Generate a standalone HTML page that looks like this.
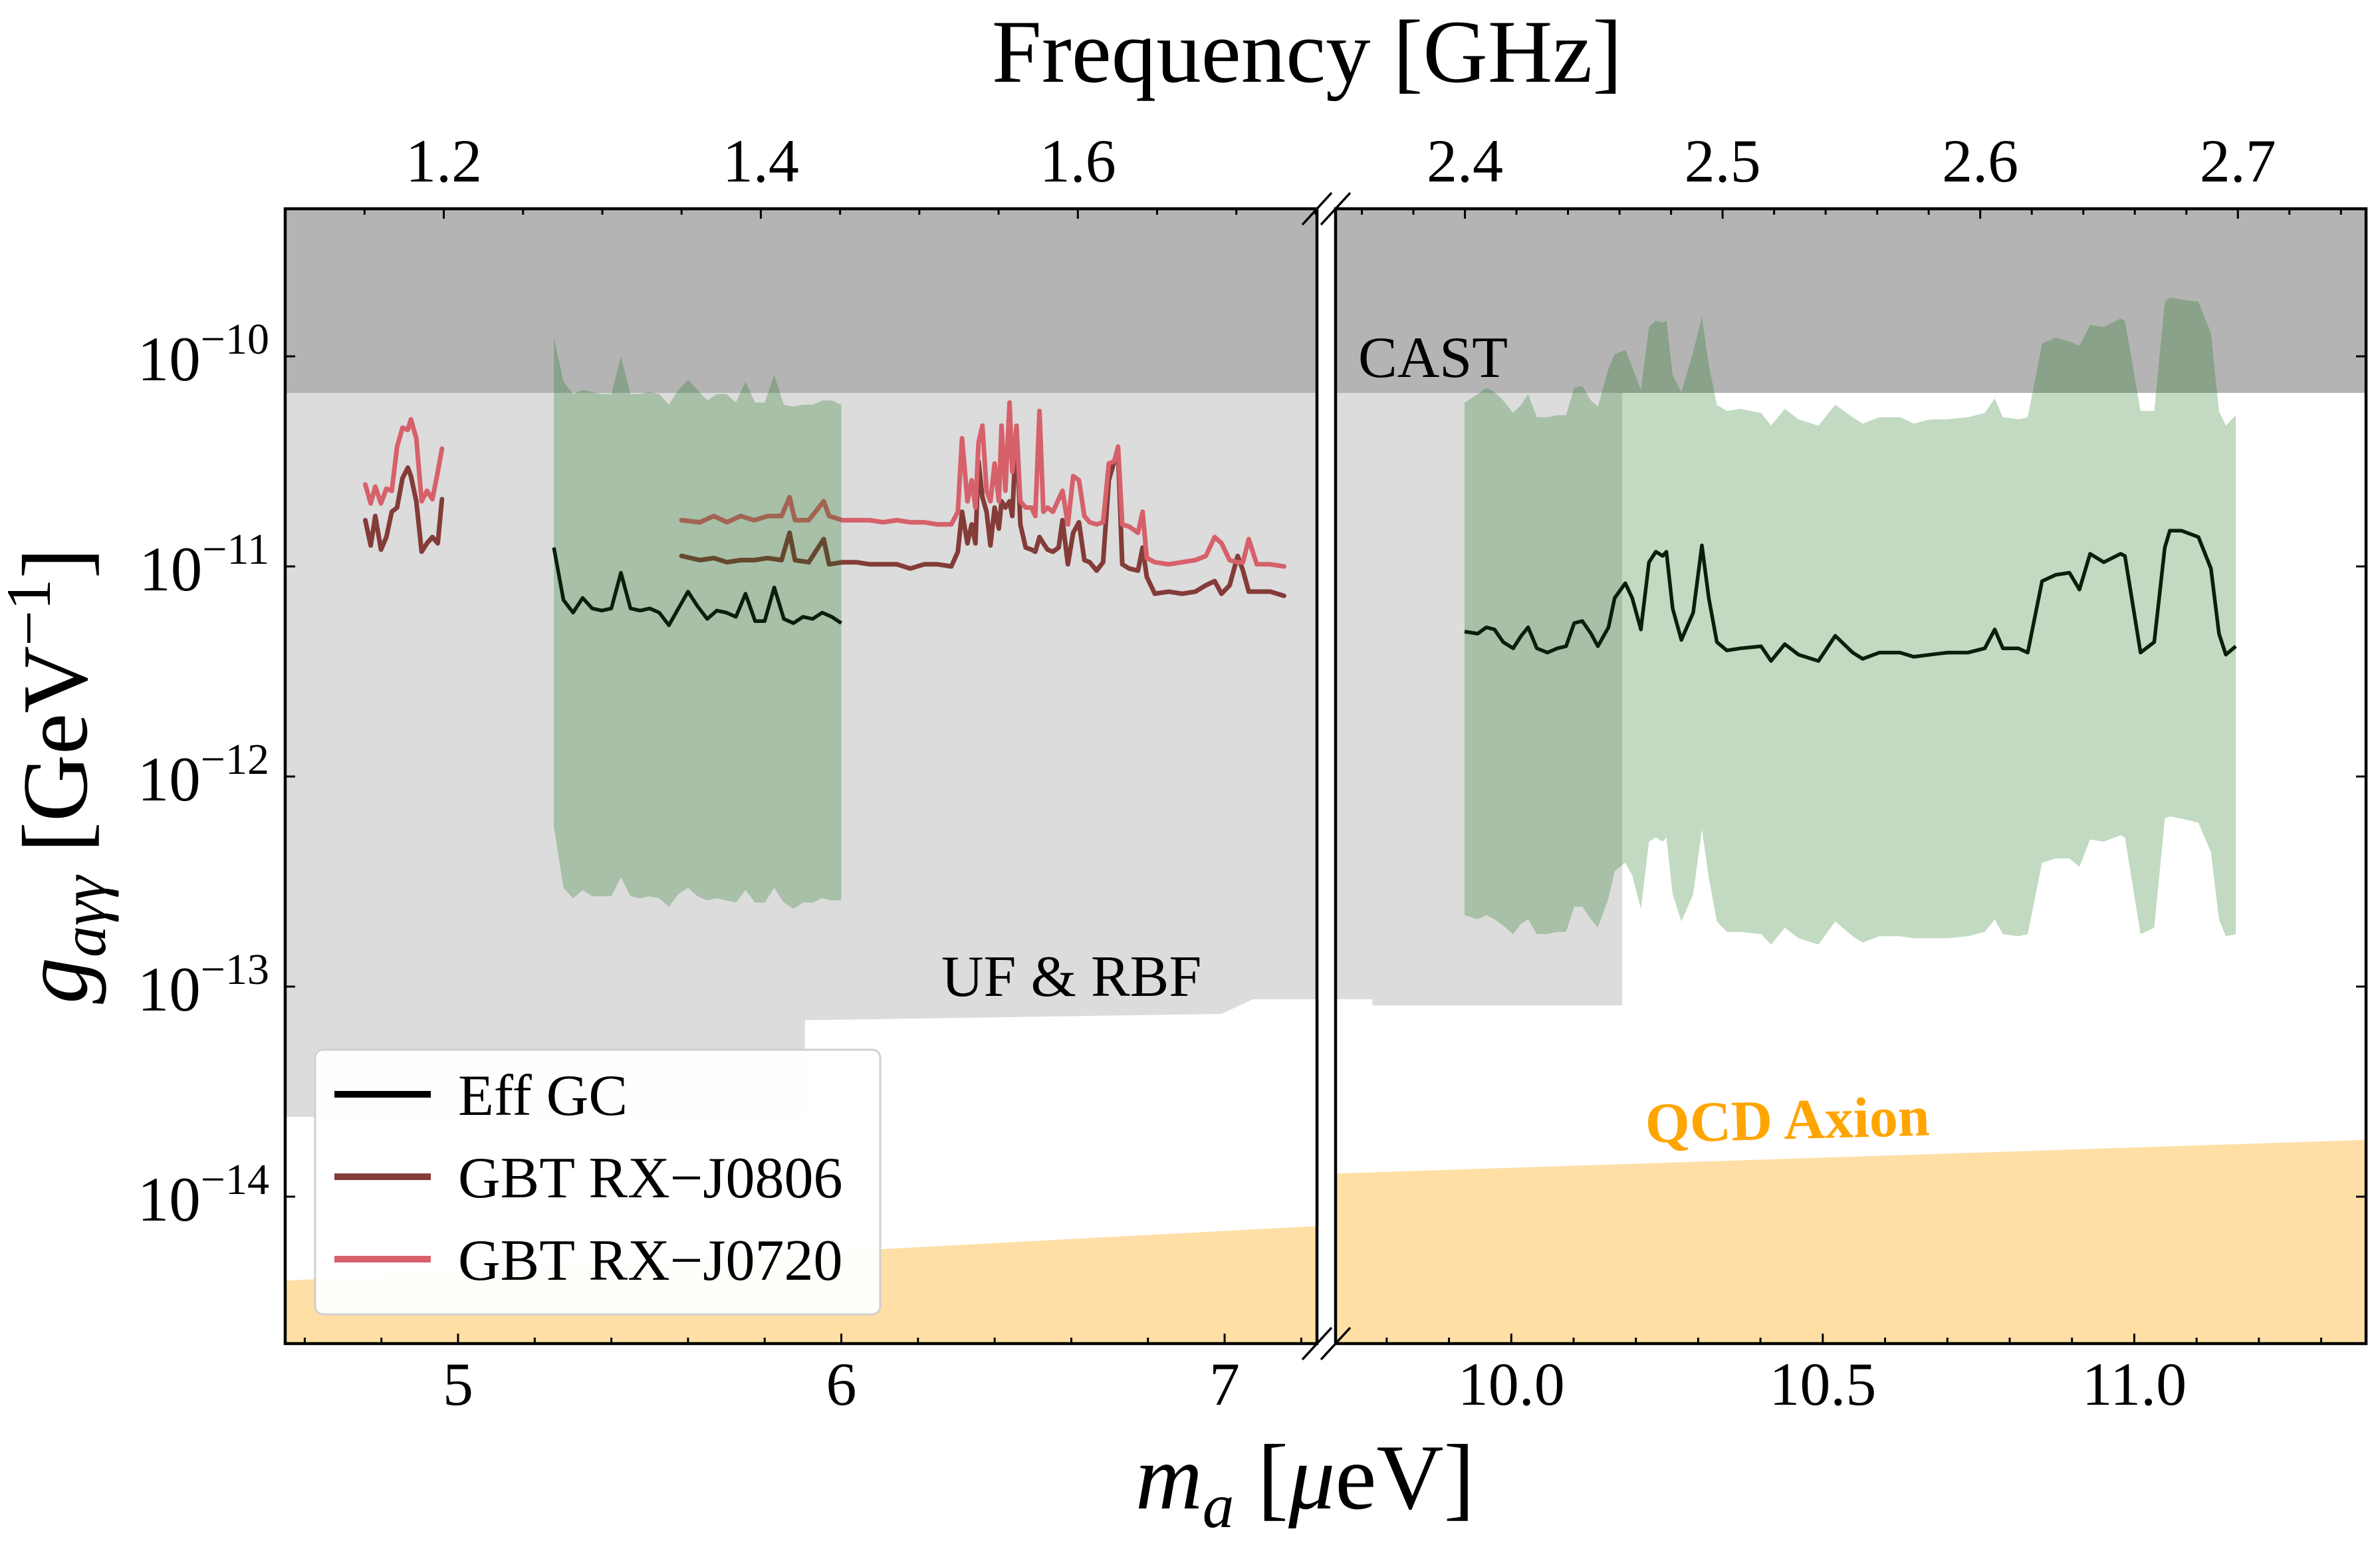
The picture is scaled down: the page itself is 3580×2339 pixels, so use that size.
<!DOCTYPE html>
<html><head><meta charset="utf-8"><style>
html,body{margin:0;padding:0;background:#fff;}
svg{display:block;}
text{font-family:"Liberation Serif","DejaVu Serif",serif;}
</style></head>
<body>
<svg id="chart" xmlns="http://www.w3.org/2000/svg" width="3580" height="2339" viewBox="0 0 3580 2339">
<rect x="0" y="0" width="3580" height="2339" fill="#fff"/>
<defs>
<clipPath id="clip-left"><rect x="429" y="314" width="1552" height="1707"/></clipPath>
<clipPath id="clip-right"><rect x="2009" y="314" width="1550" height="1707"/></clipPath>
</defs>
<g id="plot"></g>
<g id="overlay"></g>
</svg>
<script>
// ---- data (mass in μeV, coupling as log10 g [GeV^-1]) ----
const castL = -10.174;
const ufM = [4.549,5.905,5.905,6.992,7.074,7.241,9.718,9.777,9.777,10.178,10.178];
const ufL = [-13.62,-13.62,-13.16,-13.13,-13.06,-13.06,-13.06,-13.06,-13.09,-13.09,-9.0];
const qcdM = [4.549,7.241,9.718,11.372];
const qcdL = [-14.40,-14.14,-13.89,-13.73];

const effLeftM = [5.250,5.275,5.300,5.325,5.350,5.375,5.400,5.425,5.450,5.475,5.500,5.525,5.550,5.575,5.600,5.625,5.650,5.675,5.700,5.725,5.750,5.775,5.800,5.825,5.850,5.875,5.900,5.925,5.950,5.975,6.000];
const effLeftL = [-10.91,-11.16,-11.22,-11.15,-11.20,-11.21,-11.20,-11.03,-11.20,-11.21,-11.20,-11.22,-11.28,-11.20,-11.12,-11.19,-11.25,-11.21,-11.22,-11.24,-11.13,-11.26,-11.26,-11.10,-11.25,-11.27,-11.24,-11.25,-11.22,-11.24,-11.27];
const bandLeftUp = [-9.91,-10.12,-10.18,-10.16,-10.17,-10.18,-10.18,-10.00,-10.18,-10.18,-10.17,-10.18,-10.23,-10.16,-10.11,-10.16,-10.21,-10.18,-10.18,-10.22,-10.12,-10.22,-10.22,-10.09,-10.23,-10.24,-10.23,-10.23,-10.21,-10.21,-10.23];
const bandLeftLo = [-12.24,-12.53,-12.58,-12.54,-12.57,-12.57,-12.57,-12.48,-12.57,-12.58,-12.57,-12.58,-12.62,-12.56,-12.53,-12.57,-12.59,-12.58,-12.59,-12.60,-12.54,-12.60,-12.60,-12.53,-12.60,-12.63,-12.60,-12.60,-12.58,-12.59,-12.59];

const effRightM = [9.925,9.946,9.960,9.973,9.987,10.003,10.016,10.027,10.041,10.058,10.074,10.088,10.101,10.114,10.128,10.139,10.156,10.166,10.183,10.194,10.208,10.221,10.232,10.243,10.249,10.259,10.273,10.292,10.306,10.317,10.330,10.346,10.368,10.401,10.417,10.439,10.461,10.493,10.520,10.548,10.564,10.591,10.624,10.646,10.673,10.700,10.733,10.760,10.776,10.789,10.814,10.829,10.852,10.874,10.896,10.912,10.929,10.951,10.978,10.985,11.010,11.032,11.049,11.057,11.076,11.103,11.123,11.136,11.147,11.163];
const effRightL = [-11.31,-11.32,-11.29,-11.30,-11.36,-11.39,-11.33,-11.29,-11.39,-11.41,-11.39,-11.38,-11.27,-11.26,-11.32,-11.38,-11.29,-11.15,-11.08,-11.15,-11.30,-10.98,-10.93,-10.95,-10.93,-11.20,-11.35,-11.22,-10.90,-11.15,-11.36,-11.40,-11.39,-11.38,-11.45,-11.37,-11.42,-11.45,-11.33,-11.41,-11.44,-11.41,-11.41,-11.43,-11.42,-11.41,-11.41,-11.39,-11.30,-11.39,-11.39,-11.41,-11.07,-11.04,-11.03,-11.11,-10.94,-10.98,-10.94,-10.95,-11.41,-11.36,-10.91,-10.83,-10.83,-10.86,-11.01,-11.32,-11.42,-11.38];
const bandRightUp = [-10.22,-10.18,-10.15,-10.17,-10.21,-10.27,-10.23,-10.18,-10.29,-10.29,-10.28,-10.28,-10.15,-10.14,-10.21,-10.24,-10.06,-9.99,-9.97,-10.05,-10.16,-9.86,-9.83,-9.84,-9.83,-10.09,-10.17,-9.98,-9.81,-10.04,-10.23,-10.26,-10.25,-10.27,-10.33,-10.25,-10.30,-10.33,-10.23,-10.29,-10.32,-10.29,-10.29,-10.32,-10.30,-10.30,-10.29,-10.27,-10.20,-10.29,-10.30,-10.29,-9.94,-9.91,-9.93,-9.95,-9.85,-9.86,-9.82,-9.83,-10.26,-10.26,-9.74,-9.72,-9.73,-9.74,-9.89,-10.26,-10.33,-10.28];
const bandRightLo = [-12.66,-12.68,-12.66,-12.68,-12.71,-12.75,-12.70,-12.68,-12.75,-12.75,-12.74,-12.74,-12.62,-12.62,-12.68,-12.72,-12.58,-12.45,-12.41,-12.47,-12.63,-12.31,-12.29,-12.31,-12.29,-12.56,-12.69,-12.56,-12.25,-12.48,-12.69,-12.74,-12.74,-12.75,-12.80,-12.72,-12.77,-12.80,-12.69,-12.76,-12.79,-12.76,-12.76,-12.77,-12.77,-12.77,-12.76,-12.74,-12.68,-12.75,-12.76,-12.75,-12.41,-12.39,-12.39,-12.43,-12.30,-12.31,-12.28,-12.29,-12.75,-12.72,-12.20,-12.19,-12.20,-12.22,-12.36,-12.68,-12.76,-12.75];

const gbtAM = [4.758,4.772,4.784,4.799,4.813,4.827,4.841,4.855,4.869,4.877,4.891,4.905,4.919,4.933,4.947,4.958];
const j0720A = [-10.61,-10.70,-10.62,-10.70,-10.63,-10.64,-10.43,-10.34,-10.35,-10.30,-10.39,-10.69,-10.64,-10.68,-10.55,-10.44];
const j0806A = [-10.78,-10.90,-10.76,-10.92,-10.86,-10.74,-10.72,-10.58,-10.53,-10.57,-10.69,-10.93,-10.89,-10.86,-10.89,-10.68];
const gbtBM = [5.583,5.631,5.667,5.702,5.737,5.773,5.808,5.844,5.865,5.879,5.915,5.954,5.968,6.003,6.039,6.074,6.109,6.145,6.180,6.216,6.251,6.287,6.304,6.315,6.329,6.340,6.350,6.358,6.368,6.379,6.389,6.400,6.411,6.418,6.428,6.439,6.446,6.457,6.467,6.481,6.496,6.506,6.517,6.527,6.538,6.552,6.567,6.577,6.591,6.605,6.620,6.634,6.648,6.666,6.683,6.698,6.712,6.722,6.733,6.751,6.774,6.786,6.797,6.818,6.854,6.889,6.924,6.951,6.974,6.992,7.013,7.034,7.048,7.063,7.084,7.119,7.155];
const j0720B = [-10.78,-10.79,-10.76,-10.79,-10.76,-10.78,-10.76,-10.76,-10.67,-10.78,-10.78,-10.69,-10.76,-10.78,-10.78,-10.78,-10.79,-10.78,-10.79,-10.79,-10.80,-10.80,-10.74,-10.39,-10.69,-10.59,-10.72,-10.41,-10.33,-10.64,-10.69,-10.51,-10.69,-10.33,-10.64,-10.22,-10.55,-10.33,-10.69,-10.72,-10.72,-10.76,-10.26,-10.74,-10.72,-10.74,-10.68,-10.64,-10.80,-10.57,-10.59,-10.76,-10.79,-10.80,-10.79,-10.51,-10.50,-10.43,-10.80,-10.81,-10.84,-10.74,-10.96,-10.98,-10.99,-10.98,-10.97,-10.95,-10.86,-10.89,-10.97,-10.98,-10.98,-10.87,-10.99,-10.99,-11.00];
const j0806B = [-10.95,-10.97,-10.96,-10.98,-10.97,-10.97,-10.96,-10.97,-10.84,-10.97,-10.98,-10.87,-10.99,-10.98,-10.98,-10.99,-10.99,-10.99,-11.01,-10.99,-10.99,-11.00,-10.93,-10.74,-10.89,-10.80,-10.89,-10.50,-10.67,-10.74,-10.90,-10.72,-10.82,-10.69,-10.72,-10.69,-10.76,-10.34,-10.80,-10.91,-10.92,-10.93,-10.86,-10.89,-10.92,-10.93,-10.91,-10.78,-10.99,-10.84,-10.79,-10.97,-10.98,-11.02,-10.98,-10.59,-10.50,-10.46,-10.99,-11.01,-11.02,-10.91,-11.05,-11.13,-11.12,-11.13,-11.12,-11.09,-11.07,-11.13,-11.09,-10.95,-11.02,-11.12,-11.12,-11.12,-11.14];

const yTickExp = [-10,-11,-12,-13,-14];
const yTickLabels = ["−10","−11","−12","−13","−14"];
const leftMassTicks = [5,6,7];
const leftMassLabels = ["5","6","7"];
const rightMassTicks = [10.0,10.5,11.0];
const rightMassLabels = ["10.0","10.5","11.0"];
const leftFreqTicks = [1.2,1.4,1.6];
const leftFreqLabels = ["1.2","1.4","1.6"];
const rightFreqTicks = [2.4,2.5,2.6,2.7];
const rightFreqLabels = ["2.4","2.5","2.6","2.7"];

// ---- geometry ----
const NS = "http://www.w3.org/2000/svg";
const YT = 314, YB = 2021;
const GHZ_PER_UEV = 0.241799;
const panels = [
  {key:"left", X0:429, X1:1981, m0:4.549, m1:7.241, minorM:0.2, minorF:0.05, massTicks:leftMassTicks, massLabels:leftMassLabels, freqTicks:leftFreqTicks, freqLabels:leftFreqLabels, ySide:"left"},
  {key:"right", X0:2009, X1:3559, m0:9.718, m1:11.372, minorM:0.1, minorF:0.02, massTicks:rightMassTicks, massLabels:rightMassLabels, freqTicks:rightFreqTicks, freqLabels:rightFreqLabels, ySide:"right"}
];
function yP(L){ return 536 + (-10 - L) * 316; }
function xP(p, m){ return p.X0 + (m - p.m0) / (p.m1 - p.m0) * (p.X1 - p.X0); }
function mk(tag, attrs, parent){
  const el = document.createElementNS(NS, tag);
  for (const k in attrs) el.setAttribute(k, attrs[k]);
  parent.appendChild(el);
  return el;
}
function pts(p, ms, ls){ return ms.map((m,i)=>xP(p,m).toFixed(1)+","+yP(ls[i]).toFixed(1)).join(" "); }
function bandPts(p, ms, up, lo){
  const a = ms.map((m,i)=>xP(p,m).toFixed(1)+","+yP(up[i]).toFixed(1));
  const b = ms.map((m,i)=>xP(p,m).toFixed(1)+","+yP(lo[i]).toFixed(1)).reverse();
  return a.concat(b).join(" ");
}

const plot = document.getElementById("plot");
const overlay = document.getElementById("overlay");

panels.forEach(p => {
  const g = mk("g", {"clip-path":"url(#clip-"+p.key+")"}, plot);
  
  

  const uf = mk("polygon", {points: xP(p,ufM[0]).toFixed(1)+","+(YT-50)+" "+pts(p,ufM,ufL), fill:"#dcdcdc"}, g);
  
  

  const cast = mk("rect", {x:p.X0, y:YT, width:p.X1-p.X0, height:yP(castL)-YT, fill:"#b4b4b4"}, g);
  
  

  const qcdPoly = pts(p,qcdM,qcdL) + " " + xP(p,qcdM[qcdM.length-1]).toFixed(1)+","+(YB+50) + " " + xP(p,qcdM[0]).toFixed(1)+","+(YB+50);
  const qcd = mk("polygon", {points:qcdPoly, fill:"#ffdfa6"}, g);
  
  

  const lineStyle = {fill:"none","stroke-width":7,"stroke-linejoin":"round","stroke-linecap":"round"};
  const a1 = mk("polyline", Object.assign({points:pts(p,gbtAM,j0806A), stroke:"#843c39"}, lineStyle), g);
  
  
  const a2 = mk("polyline", Object.assign({points:pts(p,gbtBM,j0806B), stroke:"#843c39"}, lineStyle), g);
  
  
  const b1 = mk("polyline", Object.assign({points:pts(p,gbtAM,j0720A), stroke:"#d6616b"}, lineStyle), g);
  
  
  const b2 = mk("polyline", Object.assign({points:pts(p,gbtBM,j0720B), stroke:"#d6616b"}, lineStyle), g);
  
  

  const bl = mk("polygon", {points:bandPts(p,effLeftM,bandLeftUp,bandLeftLo), fill:"#116f11", "fill-opacity":0.26}, g);
  
  
  const br = mk("polygon", {points:bandPts(p,effRightM,bandRightUp,bandRightLo), fill:"#116f11", "fill-opacity":0.26}, g);
  
  

  const effStyle = {fill:"none", stroke:"#0a1f0a", "stroke-width":5.5, "stroke-linejoin":"round"};
  const e1 = mk("polyline", Object.assign({points:pts(p,effLeftM,effLeftL)}, effStyle), g);
  
  
  const e2 = mk("polyline", Object.assign({points:pts(p,effRightM,effRightL)}, effStyle), g);
  
  

  const frame = mk("rect", {x:p.X0, y:YT, width:p.X1-p.X0, height:YB-YT, fill:"none", stroke:"#000", "stroke-width":4.5}, overlay);
  
  

  const start = Math.ceil(p.m0 / p.minorM - 1e-6);
  for (let k = start; k * p.minorM <= p.m1 + 1e-9; k++) {
    const m = k * p.minorM;
    const isMajor = p.massTicks.some(t => Math.abs(t - m) < 1e-6);
    const x = xP(p, m);
    const t = mk("line", {x1:x, x2:x, y1:YB, y2:YB-(isMajor?15:9), stroke:"#000", "stroke-width":3}, overlay);
    
    
  }
  p.massTicks.forEach((m,i) => {
    const tx = mk("text", {x:xP(p,m), y:2113, "font-size":92, "text-anchor":"middle", fill:"#000"}, overlay);
    tx.textContent = p.massLabels[i];
    
    
  });
  const f0 = p.m0 * GHZ_PER_UEV, f1 = p.m1 * GHZ_PER_UEV;
  for (let k = Math.ceil(f0 / p.minorF - 1e-6); k * p.minorF <= f1 + 1e-9; k++) {
    const f = k * p.minorF;
    const isMajor = p.freqTicks.some(t => Math.abs(t - f) < 1e-6);
    const x = xP(p, f / GHZ_PER_UEV);
    const t = mk("line", {x1:x, x2:x, y1:YT, y2:YT+(isMajor?15:9), stroke:"#000", "stroke-width":3}, overlay);
    
    
  }
  p.freqTicks.forEach((f,i) => {
    const tx = mk("text", {x:xP(p, f / GHZ_PER_UEV), y:273, "font-size":92, "text-anchor":"middle", fill:"#000"}, overlay);
    tx.textContent = p.freqLabels[i];
    
    
  });
  yTickExp.forEach(e => {
    const y = yP(e);
    const x = p.ySide === "left" ? p.X0 : p.X1;
    const d = p.ySide === "left" ? 15 : -15;
    const t = mk("line", {x1:x, x2:x+d, y1:y, y2:y, stroke:"#000", "stroke-width":3}, overlay);
    
    
  });
  const bx = p.key === "left" ? p.X1 : p.X0;
  [YT, YB].forEach(by => {
    const bm = mk("line", {x1:bx-22, y1:by+24, x2:bx+22, y2:by-24, stroke:"#000", "stroke-width":3.5}, overlay);
    
    
  });
});

yTickExp.forEach((e,i) => {
  const y = yP(e) + 36;
  const tx = mk("text", {x:405, y:y, "font-size":95, "text-anchor":"end", fill:"#000"}, overlay);
  
  
  const s1 = mk("tspan", {}, tx); s1.textContent = "10";
  const s2 = mk("tspan", {dy:-40, "font-size":66}, tx); s2.textContent = yTickLabels[i];
});
</script>
<script>
const ov = document.getElementById("overlay");
function addText(attrs, content){
  const el = document.createElementNS("http://www.w3.org/2000/svg","text");
  for (const k in attrs) el.setAttribute(k, attrs[k]);
  el.innerHTML = content;
  ov.appendChild(el);
  return el;
}
const t1 = addText({x:2043, y:567, "font-size":88, fill:"#000"}, "CAST");


const t2 = addText({x:1416, y:1498, "font-size":88, fill:"#000"}, "UF &amp; RBF");


const t3 = addText({x:2475, y:1712, "font-size":86, "font-weight":"bold", fill:"#ffa500", transform:"rotate(-1.5 2730 1690)"}, "QCD Axion");


const t4 = addText({x:1966, y:123, "font-size":135, "text-anchor":"middle", fill:"#000"}, "Frequency [GHz]");


const t5 = addText({x:1963, y:2269, "font-size":140, "text-anchor":"middle", fill:"#000"}, '<tspan font-style="italic">m</tspan><tspan font-size="95" font-style="italic" dy="28">a</tspan><tspan dy="-28"> [</tspan><tspan font-style="italic">μ</tspan>eV]');


const t6 = addText({x:0, y:0, "font-size":140, "text-anchor":"middle", fill:"#000", transform:"translate(130 1167) rotate(-90)"}, '<tspan font-style="italic">g</tspan><tspan font-size="95" font-style="italic" dy="28">aγγ</tspan><tspan dy="-28"> [GeV</tspan><tspan font-size="95" dy="-55">−1</tspan><tspan dy="55">]</tspan>');



const lg = document.createElementNS("http://www.w3.org/2000/svg","g");
ov.appendChild(lg);


const box = document.createElementNS("http://www.w3.org/2000/svg","rect");
box.setAttribute("x",474); box.setAttribute("y",1579); box.setAttribute("width",850); box.setAttribute("height",398);
box.setAttribute("rx",12); box.setAttribute("fill","#fff"); box.setAttribute("fill-opacity","0.95"); box.setAttribute("stroke","#d0d0d0"); box.setAttribute("stroke-width",3);
lg.appendChild(box);


const legendLabels = ["Eff GC","GBT RX−J0806","GBT RX−J0720"];
const legendColors = ["#000000","#843c39","#d6616b"];
const legendY = [1646,1770,1894];
legendLabels.forEach((lab,i) => {
  const ln = document.createElementNS("http://www.w3.org/2000/svg","line");
  ln.setAttribute("x1",503); ln.setAttribute("x2",648); ln.setAttribute("y1",legendY[i]); ln.setAttribute("y2",legendY[i]);
  ln.setAttribute("stroke",legendColors[i]); ln.setAttribute("stroke-width",10);
  lg.appendChild(ln);
  
  
  const tx = document.createElementNS("http://www.w3.org/2000/svg","text");
  tx.setAttribute("x",689); tx.setAttribute("y",legendY[i]+31); tx.setAttribute("font-size",88);
  tx.textContent = lab;
  lg.appendChild(tx);
  
  
});
</script>
</body></html>
